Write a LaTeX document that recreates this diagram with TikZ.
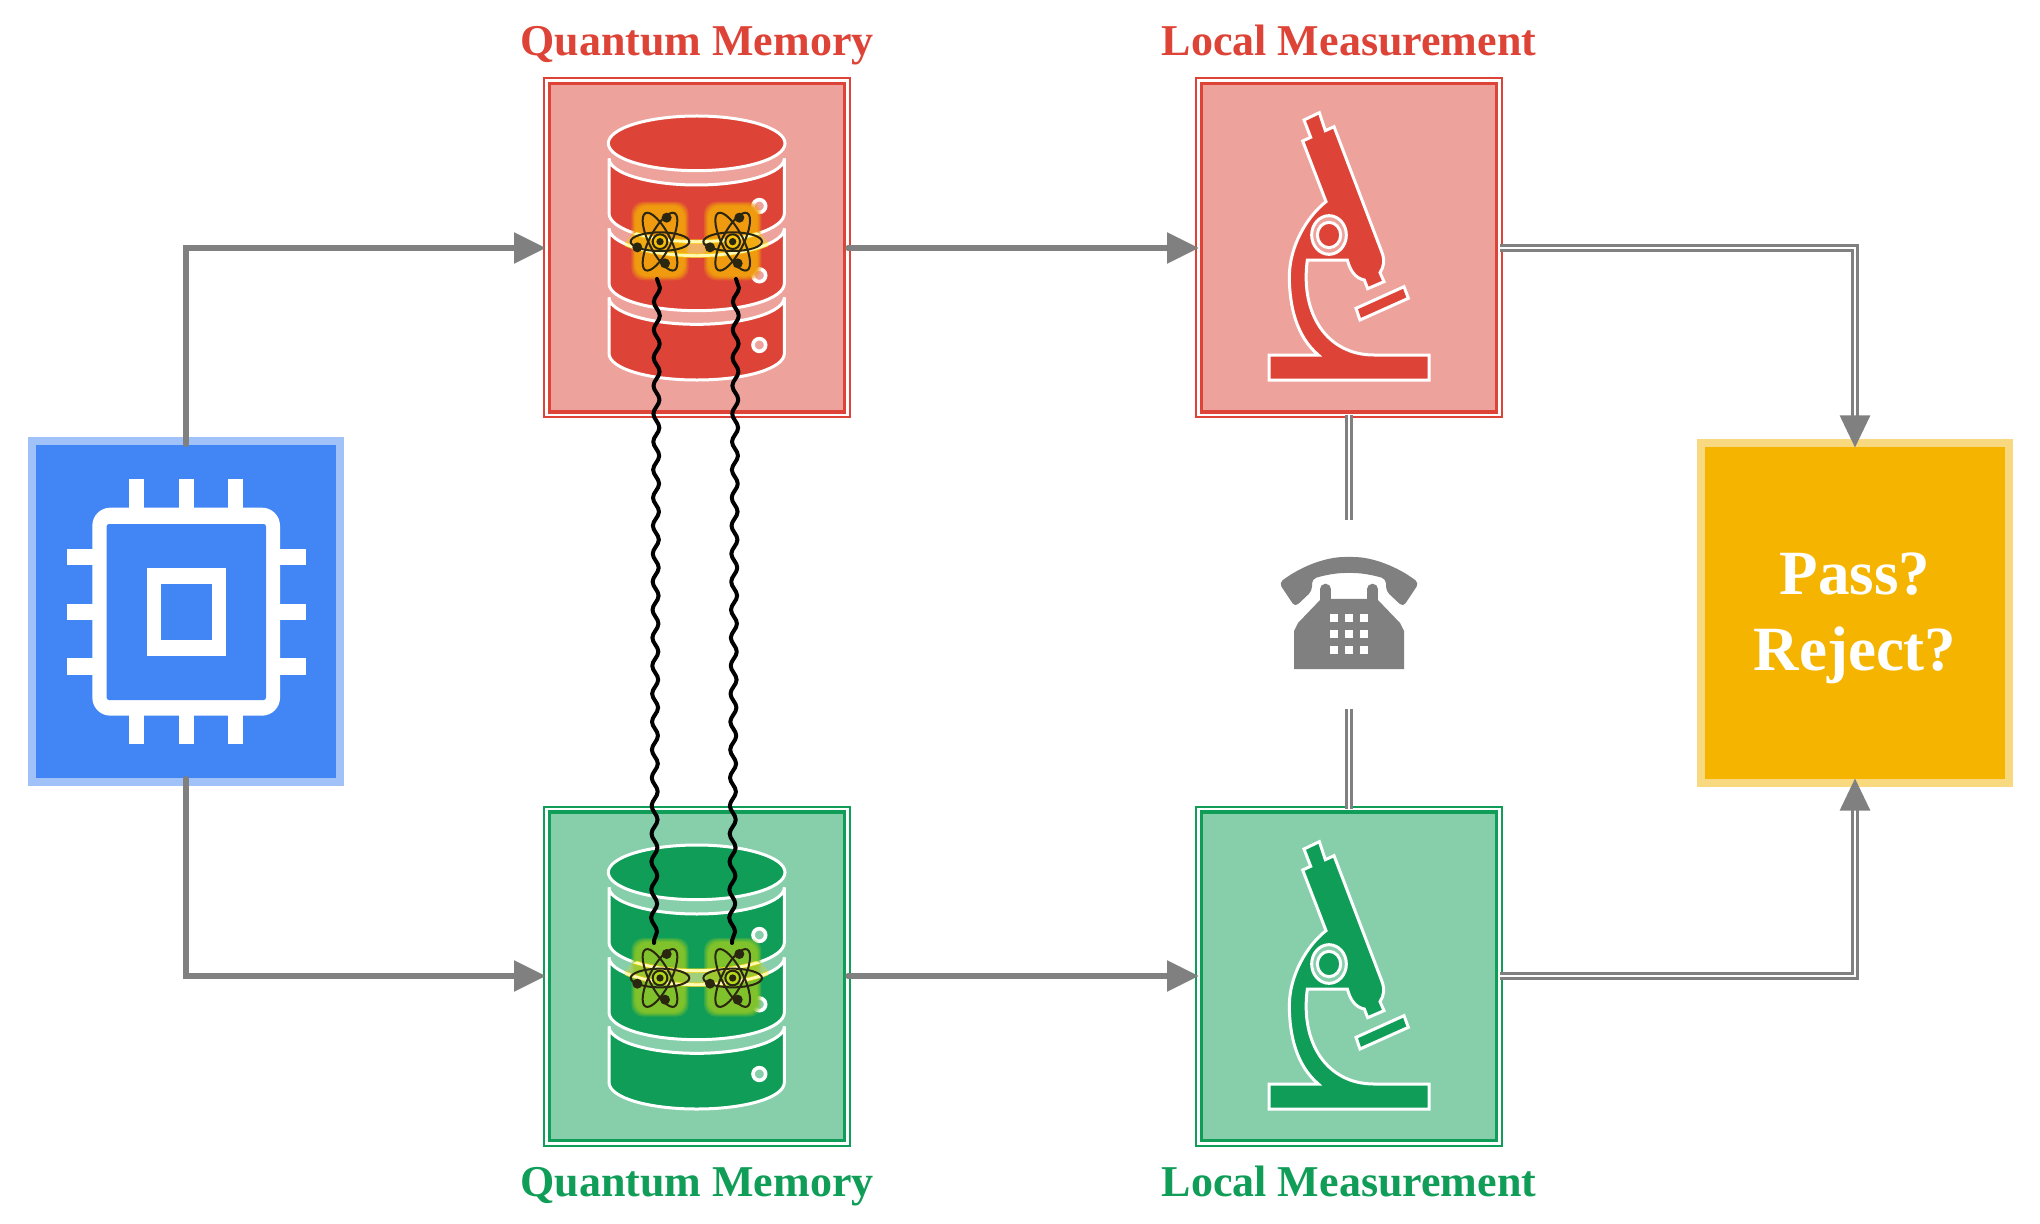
\documentclass[tikz,border=0pt]{standalone}
\usepackage{fontspec}
\setmainfont{Liberation Serif}
\usetikzlibrary{arrows.meta,decorations.pathmorphing}
\definecolor{qred}{HTML}{DD4437}
\definecolor{qredlt}{HTML}{EDA29C}
\definecolor{qgreen}{HTML}{0F9D58}
\definecolor{qgreenlt}{HTML}{87CFAB}
\definecolor{qblue}{HTML}{4285F4}
\definecolor{qbluelt}{HTML}{A0C2F9}
\definecolor{qgold}{HTML}{F4B400}
\definecolor{qgoldlt}{HTML}{F9D97F}
\definecolor{qgray}{HTML}{808080}
\definecolor{atomink}{HTML}{2B2610}
\definecolor{glowred}{HTML}{F09A10}
\definecolor{glowgreen}{HTML}{80C22C}
\tikzset{
  framebox/.style={rectangle,inner sep=0pt,outer sep=0pt,draw=#1,line width=1pt,minimum width=153pt,minimum height=169.5pt},
  softbox/.style={rectangle,inner sep=0pt,outer sep=0pt,line width=4pt,minimum width=154pt,minimum height=170.5pt},
  caption/.style={font=\fontsize{22}{26}\selectfont\bfseries,inner sep=0pt,anchor=base},
  feed/.style={draw=qgray,line width=2.8pt,line cap=round,-{Triangle[length=16pt,width=15pt]}},
  classical/.style={draw=qgray,line width=1.3pt,double=white,double distance=1.4pt,line join=miter},
  classicalarrow/.style={classical,-{Triangle[length=16pt,width=15pt]}},
  entangle/.style={draw=black,line width=2pt,line join=round,line cap=round,
    decorate,decoration={snake,segment length=14pt,amplitude=1.5pt}},
  iconline/.style={draw=white,line width=1.5pt,line join=miter},
  atomline/.style={draw=atomink,line width=1pt},
}
% Inner edge of a memory or measurement frame
\newcommand{\innerframe}[2]{%
  \draw[#2,line width=1.6pt] ([shift={(2.7pt,-2.7pt)}]#1.north west) rectangle ([shift={(-2.7pt,2.7pt)}]#1.south east);}
% One slice of the storage drum
\newcommand{\drumslice}[4]{%
  \path[iconline,fill=\drumcol] (237,#1) .. controls (237,#1+44) and (355,#2) .. (500,#2)
    .. controls (645,#2) and (763,#1+44) .. (763,#1) -- (763,#3)
    .. controls (763,#3+46) and (645,#4) .. (500,#4)
    .. controls (355,#4) and (237,#3+46) .. (237,#3) -- cycle;}
\newcommand{\drumdot}[1]{%
  \path[draw=white,line width=1.8pt,fill=\drumlt] (688,#1) circle [radius=19];}
% A single atom symbol around its nucleus
\newcommand{\atomicon}[2]{%
  \begin{scope}[shift={(#1,#2)}]
    \draw[atomline,rotate=0] (0,0) ellipse [x radius=88,y radius=28];
    \draw[atomline,rotate=63] (0,0) ellipse [x radius=96,y radius=32];
    \draw[atomline,rotate=-63] (0,0) ellipse [x radius=96,y radius=32];
    \draw[atomline,fill=\glowcol!60!yellow] (0,0) circle [radius=22];
    \fill[atomink] (0,0) circle [radius=11];
    \fill[atomink] (20,-72) circle [radius=15];
    \fill[atomink] (-68,17) circle [radius=15];
    \fill[atomink] (15,65) circle [radius=15];
  \end{scope}}
\newcommand{\atomglow}[2]{%
  \begin{scope}[shift={(#1,#2)}]
    \foreach \e/\o in {8/.3,4/.45,0/.65,-4/1}{
      \fill[\glowcol,opacity=\o,rounded corners=6pt] (-78-\e,-112-\e) rectangle (78+\e,108+\e);}
  \end{scope}}
% Storage drum with its pair of glowing atoms
\newcommand{\qmemory}[4]{%
  \def\drumcol{#2}\def\drumlt{#3}\def\glowcol{#4}%
  \begin{scope}[shift={(530,#1)},x=.16667pt,y=-.16667pt]
    \drumslice{712}{793}{880}{960}
    \drumslice{505}{587}{670}{752}
    \drumslice{295}{375}{460}{545}
    \path[iconline,fill=\drumcol] (500,250) ellipse [x radius=265,y radius=82];
    \drumdot{438}\drumdot{646}\drumdot{855}
    \atomglow{390}{\atomy}\atomglow{608}{\atomy}
    \begin{scope}
      \clip (500,555) ellipse [x radius=215,y radius=70];
      \fill[yellow!50!\glowcol,opacity=.4] (237,505) .. controls (237,549) and (355,587) .. (500,587)
        .. controls (645,587) and (763,549) .. (763,505)
        .. controls (763,505) and (645,545) .. (500,545)
        .. controls (355,545) and (237,505) .. (237,505) -- cycle;
      \draw[yellow!70!orange,line width=2.2pt,opacity=.7] (237,460) .. controls (237,506) and (355,545) .. (500,545)
        .. controls (645,545) and (763,506) .. (763,460);
      \draw[yellow!70!orange,line width=2.2pt,opacity=.7] (237,505) .. controls (237,549) and (355,587) .. (500,587)
        .. controls (645,587) and (763,549) .. (763,505);
      \draw[yellow!30!white,line width=1.4pt] (237,460) .. controls (237,506) and (355,545) .. (500,545)
        .. controls (645,545) and (763,506) .. (763,460);
      \draw[yellow!30!white,line width=1.4pt] (237,505) .. controls (237,549) and (355,587) .. (500,587)
        .. controls (645,587) and (763,549) .. (763,505);
    \end{scope}
    \atomicon{390}{\atomy}\atomicon{608}{\atomy}
  \end{scope}}
% Microscope drawn in a local grid
\newcommand{\microscope}[3]{%
  \begin{scope}[shift={(1180,#1)},x=.16667pt,y=-.16667pt]
    \path[iconline,fill=#2] (372,180) -- (418,158) -- (436,212) -- (462,200) -- (605,575)
      .. controls (615,600) and (612,620) .. (600,638) -- (612,665) -- (563,686) -- (553,660)
      .. controls (525,655) and (510,630) .. (502,600) -- (382,600)
      .. controls (360,760) and (440,885) .. (582,885) -- (747,885) -- (747,960) -- (267,960) -- (267,885) -- (415,885)
      .. controls (350,830) and (328,740) .. (328,650)
      .. controls (328,560) and (380,470) .. (438,425)
      -- (368,243) -- (392,232) -- cycle;
    \path[iconline,fill=#2] (528,745) -- (672,680) -- (685,715) -- (540,780) -- cycle;
    \path[iconline,fill=#3] (447,525) ellipse [x radius=52,y radius=58];
    \path[iconline,fill=#2] (447,525) ellipse [x radius=35,y radius=38];
  \end{scope}}
\begin{document}
\begin{tikzpicture}[x=.5pt,y=-.5pt]
  \useasboundingbox[fill=white] (0,0) rectangle (2040,1224);

  % Frames
  \node[softbox,draw=qbluelt,fill=qblue] (cpu) at (186,611.5) {};
  \node[framebox=qred,fill=qredlt] (memA) at (697,248) {};
  \node[framebox=qgreen,fill=qgreenlt] (memB) at (697,976) {};
  \node[framebox=qred,fill=qredlt] (measA) at (1349,248) {};
  \node[framebox=qgreen,fill=qgreenlt] (measB) at (1349,976) {};
  \node[softbox,draw=qgoldlt,fill=qgold,minimum width=154pt,minimum height=169.5pt] (verdict) at (1855,613) {};
  \node[text=white,align=center,inner sep=0pt,font=\fontsize{31.5}{38}\selectfont\bfseries] (verdictText) at (1855,618) {Pass?\\[0pt]Reject?};
  \foreach \n/\c in {memA/qred,memB/qgreen,measA/qred,measB/qgreen}{
    \draw[white,line width=1.3pt] ([shift={(1.15pt,-1.15pt)}]\n.north west) rectangle ([shift={(-1.15pt,1.15pt)}]\n.south east);
    \innerframe{\n}{\c}
  }

  % Captions
  \node[caption,text=qred] (capMemA) at (697,56) {Quantum Memory};
  \node[caption,text=qred] (capMeasA) at (1349,56) {Local Measurement};
  \node[caption,text=qgreen] (capMemB) at (697,1196) {Quantum Memory};
  \node[caption,text=qgreen] (capMeasB) at (1349,1196) {Local Measurement};

  % Processor chip
  \begin{scope}[shift={(20,430)},x=.16667pt,y=-.16667pt]
    \fill[white] (217,233) [rounded corners=9pt] rectangle (780,857);
    \foreach \a in {328,477,625}{
      \fill[white] (\a,148) rectangle (\a+44,240);
      \fill[white] (\a,850) rectangle (\a+44,941);}
    \foreach \a in {357,521,685}{
      \fill[white] (140,\a) rectangle (225,\a+49);
      \fill[white] (772,\a) rectangle (858,\a+49);}
    \fill[qblue,rounded corners=1.2pt] (260,282) rectangle (738,810);
    \fill[white] (380,413) rectangle (617,677);
    \fill[qblue] (423,461) rectangle (575,629);
  \end{scope}

  % Icons
  \def\atomy{545}\qmemory{60}{qred}{qredlt}{glowred}
  \def\atomy{567}\qmemory{789}{qgreen}{qgreenlt}{glowgreen}
  \microscope{60}{qred}{qredlt}
  \microscope{789}{qgreen}{qgreenlt}

  % Telephone
  \coordinate (phoneTop) at (1349,520);
  \coordinate (phoneBottom) at (1349,709);
  \fill[qgray,rounded corners=2.2pt] (1279,583) .. controls (1300,567) and (1325,557) .. (1349,557)
    .. controls (1373,557) and (1398,567) .. (1419,583) -- (1403,607) -- (1386,591) -- (1386,579)
    .. controls (1373,575) and (1361,573) .. (1349,573) .. controls (1337,573) and (1325,575) .. (1312,579)
    -- (1312,591) -- (1295,607) -- cycle;
  \fill[qgray] (1294,669) -- (1294,631) -- (1298,623) -- (1321,599) -- (1377,599) -- (1400,623) -- (1404,631) -- (1404,669) -- cycle;
  \draw[qgray,line width=5.3pt,line cap=round] (1325.5,605) -- (1325.5,589) (1372.5,605) -- (1372.5,589);
  \foreach \a in {1330,1345,1360}{
    \foreach \b in {614,630,646}{
      \fill[white] (\a,\b) rectangle (\a+8,\b+8);}}

  % Feeds from the source and to the readout stage
  \draw[feed] ([yshift=-1.6pt]cpu.north) |- ([xshift=1pt]memA.west);
  \draw[feed] ([yshift=1.6pt]cpu.south) |- ([xshift=1pt]memB.west);
  \draw[feed] ([xshift=-1pt]memA.east) -- ([xshift=1.5pt]measA.west);
  \draw[feed] ([xshift=-1pt]memB.east) -- ([xshift=1.5pt]measB.west);

  % Classical channels
  \draw[classicalarrow] ([xshift=-1pt]measA.east) -| ([yshift=-2pt]verdict.north);
  \draw[classicalarrow] ([xshift=-1pt]measB.east) -| ([yshift=2pt]verdict.south);
  \draw[classical] ([yshift=1pt]measA.south) -- (phoneTop);
  \draw[classical] ([yshift=-1pt]measB.north) -- (phoneBottom);

  % Entanglement links
  \coordinate (pairAa) at (657,279);
  \coordinate (pairAb) at (736,279);
  \coordinate (pairBa) at (654,943);
  \coordinate (pairBb) at (732,943);
  \draw[entangle] (pairAa) -- (pairBa);
  \draw[entangle] (pairAb) -- (pairBb);
\end{tikzpicture}
\end{document}
